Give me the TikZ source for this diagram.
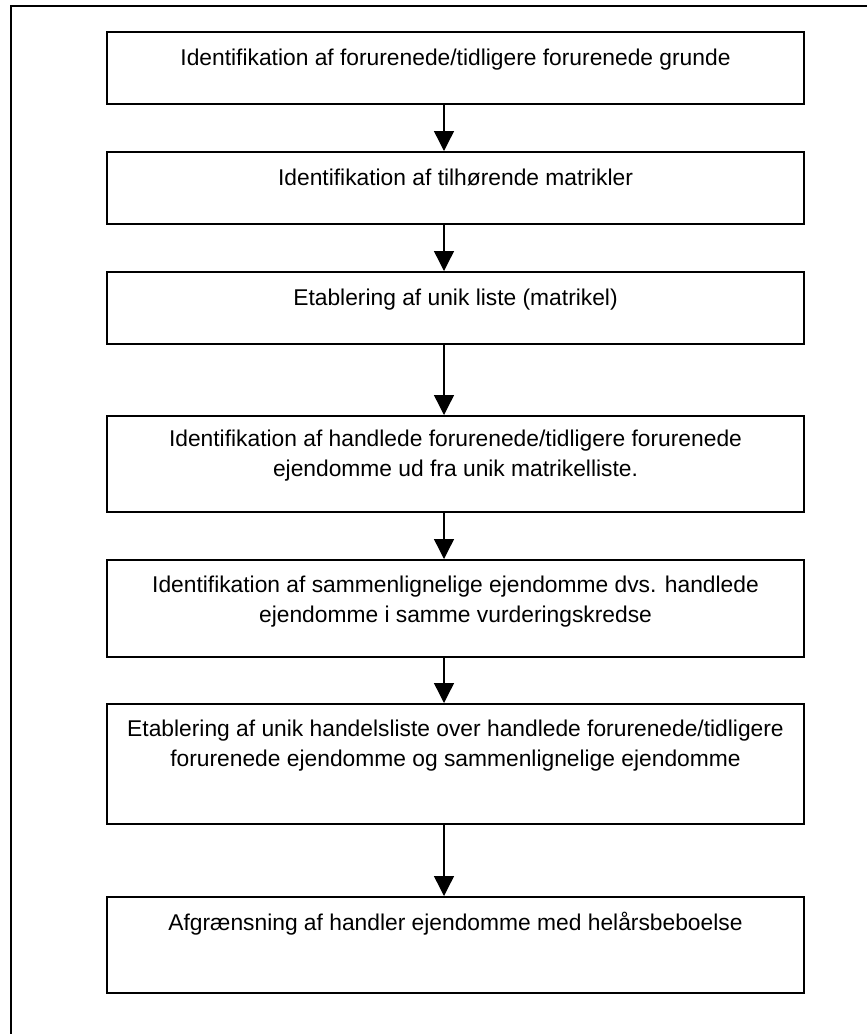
\documentclass[tikz,border=0pt]{standalone}
\usepackage{fontspec}
\setmainfont{Liberation Sans}
\usetikzlibrary{arrows.meta,positioning}

\tikzset{
  stepbox/.style={draw, line width=1.6pt, minimum width=697pt, inner sep=0pt, anchor=north},
  steptext/.style={align=center, inner sep=0pt, font=\fontsize{22.8}{30}\selectfont},
  flow/.style={line width=1.4pt, -{Triangle[width=20pt,length=20pt]}}
}

\begin{document}
\begin{tikzpicture}[x=1pt, y=-1pt]
  \useasboundingbox (0,0) rectangle (867,1034);
  \draw [line width=1.4pt] (867,6) -- (11,6) -- (11,1034);

  \node [stepbox, minimum height=72pt] (b1) at (455.5,31) {};
  \node [stepbox, minimum height=72pt] (b2) at (455.5,151) {};
  \node [stepbox, minimum height=72pt] (b3) at (455.5,271) {};
  \node [stepbox, minimum height=96pt] (b4) at (455.5,415) {};
  \node [stepbox, minimum height=97pt] (b5) at (455.5,559) {};
  \node [stepbox, minimum height=120pt] (b6) at (455.5,703) {};
  \node [stepbox, minimum height=96pt] (b7) at (455.5,896) {};

  \node [steptext, below=18pt of b1.north] (t1) {Identifikation af forurenede/tidligere forurenede grunde};
  \node [steptext, below=18pt of b2.north] (t2) {Identifikation af tilhørende matrikler};
  \node [steptext, below=18pt of b3.north] (t3) {Etablering af unik liste (matrikel)};
  \node [steptext, below=15pt of b4.north] (t4) {Identifikation af handlede forurenede/tidligere forurenede\\ejendomme ud fra unik matrikelliste.};
  \node [steptext, below=17pt of b5.north] (t5) {Identifikation af sammenlignelige ejendomme dvs. handlede\\ejendomme i samme vurderingskredse};
  \node [steptext, below=17pt of b6.north] (t6) {Etablering af unik handelsliste over handlede forurenede/tidligere\\forurenede ejendomme og sammenlignelige ejendomme};
  \node [steptext, below=16pt of b7.north] (t7) {Afgrænsning af handler ejendomme med helårsbeboelse};

  \foreach \a/\b in {b1/b2,b2/b3,b3/b4,b4/b5,b5/b6,b6/b7}
    \draw [flow] ([xshift=-11.5pt]\a.south) -- ([xshift=-11.5pt]\b.north);
\end{tikzpicture}
\end{document}
